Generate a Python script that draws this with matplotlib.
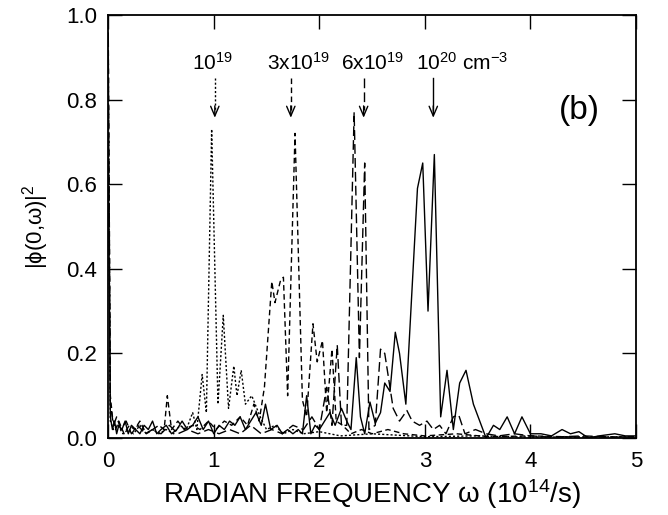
import numpy as np
import matplotlib
matplotlib.use("Agg")
import matplotlib.pyplot as plt

plt.rcParams['font.family'] = ['Liberation Sans', 'DejaVu Sans']
plt.rcParams['mathtext.default'] = 'regular'

# 10^20 cm^-3 (solid)
w_20 = [0.00, 0.02, 0.04, 0.06, 0.08, 0.10, 0.13, 0.16, 0.19, 0.22,
        0.26, 0.30, 0.34, 0.38, 0.42, 0.46, 0.50, 0.55, 0.60, 0.65,
        0.70, 0.75, 0.80, 0.85, 0.90, 0.95, 1.00, 1.05, 1.10, 1.15,
        1.20, 1.25, 1.30, 1.35, 1.40, 1.45, 1.49, 1.54, 1.60, 1.65,
        1.70, 1.75, 1.80, 1.84, 1.88, 1.92, 1.96, 2.00, 2.05, 2.10,
        2.15, 2.21, 2.26, 2.30, 2.35, 2.39, 2.43, 2.48, 2.53, 2.58,
        2.62, 2.67, 2.72, 2.76, 2.82, 2.93, 2.98, 3.03, 3.09, 3.15,
        3.21, 3.27, 3.33, 3.39, 3.46, 3.52, 3.58, 3.65, 3.71, 3.78,
        3.85, 3.92, 4.00, 4.10, 4.20, 4.30, 4.38, 4.46, 4.55, 4.65,
        4.80, 4.90, 5.00]
p_20 = [0.70, 0.05, 0.02, 0.04, 0.01, 0.03, 0.02, 0.04, 0.01, 0.03,
        0.02, 0.01, 0.03, 0.02, 0.04, 0.01, 0.02, 0.03, 0.01, 0.02,
        0.04, 0.02, 0.03, 0.05, 0.02, 0.04, 0.01, 0.03, 0.02, 0.04,
        0.03, 0.05, 0.02, 0.04, 0.06, 0.03, 0.08, 0.02, 0.03, 0.01,
        0.02, 0.01, 0.02, 0.01, 0.10, 0.01, 0.03, 0.02, 0.04, 0.06,
        0.03, 0.07, 0.04, 0.02, 0.19, 0.05, 0.01, 0.085, 0.035, 0.06,
        0.13, 0.11, 0.25, 0.20, 0.08, 0.59, 0.65, 0.30, 0.67, 0.05,
        0.16, 0.02, 0.13, 0.16, 0.08, 0.04, 0.00, 0.03, 0.02, 0.05,
        0.01, 0.05, 0.01, 0.01, 0.005, 0.02, 0.01, 0.015, 0.00, 0.005,
        0.01, 0.005, 0.005]

# 6x10^19 (long dash)
w_6e19 = [0.00, 0.02, 0.05, 0.08, 0.12, 0.17, 0.22, 0.28, 0.35, 0.42,
          0.50, 0.58, 0.66, 0.75, 0.85, 0.95, 1.05, 1.15, 1.25, 1.35,
          1.45, 1.55, 1.65, 1.75, 1.85, 1.93, 2.00, 2.07, 2.12, 2.17,
          2.21, 2.26, 2.33, 2.38, 2.43, 2.47, 2.53, 2.58, 2.62, 2.70,
          2.76, 2.83, 2.88, 2.95, 3.02, 3.08, 3.14, 3.20, 3.27, 3.32,
          3.38, 3.48, 3.58, 3.70, 3.85, 4.00, 4.20, 4.50, 4.80, 5.00]
p_6e19 = [0.95, 0.08, 0.03, 0.05, 0.02, 0.04, 0.01, 0.03, 0.01, 0.02,
          0.01, 0.03, 0.01, 0.02, 0.01, 0.02, 0.01, 0.02, 0.01, 0.03,
          0.01, 0.02, 0.01, 0.03, 0.02, 0.05, 0.02, 0.12, 0.03, 0.22,
          0.03, 0.03, 0.77, 0.19, 0.65, 0.02, 0.03, 0.21, 0.20, 0.07,
          0.04, 0.065, 0.04, 0.03, 0.04, 0.02, 0.03, 0.01, 0.05, 0.055,
          0.01, 0.02, 0.01, 0.005, 0.01, 0.005, 0.002, 0.005, 0.002, 0.003]

# 3x10^19 (medium dash)
w_3e19 = [0.00, 0.02, 0.04, 0.07, 0.10, 0.15, 0.20, 0.25, 0.30, 0.36,
          0.42, 0.48, 0.53, 0.56, 0.60, 0.66, 0.72, 0.80, 0.87, 0.95,
          1.02, 1.10, 1.17, 1.25, 1.32, 1.38, 1.43, 1.48, 1.55, 1.58,
          1.63, 1.66, 1.70, 1.77, 1.84, 1.88, 1.94, 1.98, 2.03, 2.07,
          2.12, 2.16, 2.22, 2.30, 2.40, 2.50, 2.65, 2.80, 3.00, 3.30,
          3.60, 4.00, 4.50, 5.00]
p_3e19 = [0.98, 0.10, 0.05, 0.02, 0.04, 0.01, 0.03, 0.02, 0.04, 0.01,
          0.02, 0.03, 0.02, 0.10, 0.02, 0.04, 0.02, 0.03, 0.02, 0.04,
          0.02, 0.04, 0.03, 0.05, 0.03, 0.08, 0.04, 0.12, 0.37, 0.32,
          0.37, 0.38, 0.10, 0.72, 0.09, 0.05, 0.27, 0.18, 0.23, 0.06,
          0.21, 0.04, 0.03, 0.01, 0.02, 0.01, 0.02, 0.01, 0.005, 0.01,
          0.003, 0.005, 0.002, 0.003]

# 10^19 (dotted)
w_1e19 = [0.00, 0.02, 0.05, 0.09, 0.14, 0.19, 0.24, 0.30, 0.36, 0.42,
          0.48, 0.55, 0.62, 0.68, 0.74, 0.80, 0.84, 0.89, 0.93, 0.98,
          1.04, 1.09, 1.14, 1.19, 1.22, 1.26, 1.30, 1.36, 1.44, 1.50,
          1.58, 1.66, 1.75, 1.85, 2.00, 2.20, 2.50, 3.00, 3.50, 4.00,
          5.00]
p_1e19 = [0.85, 0.04, 0.02, 0.03, 0.01, 0.02, 0.01, 0.03, 0.01, 0.02,
          0.01, 0.02, 0.01, 0.03, 0.02, 0.06, 0.02, 0.15, 0.06, 0.73,
          0.08, 0.29, 0.07, 0.17, 0.10, 0.16, 0.08, 0.10, 0.05, 0.02,
          0.03, 0.01, 0.02, 0.01, 0.015, 0.005, 0.01, 0.003, 0.005, 0.002,
          0.003]

labels = ['10$^{19}$', '3x10$^{19}$', '6x10$^{19}$', '10$^{20}$ cm$^{-3}$']
label_x = [0.99, 1.80, 2.505, 2.92]
label_ha = ['center', 'center', 'center', 'left']
arrow_x = [1.01, 1.73, 2.42, 3.08]

dot = (0, (1.5, 1.5))
mid = (0, (4, 2.5))
lng = (0, (7, 3))
styles = [dot, mid, lng, '-']

fig = plt.figure(figsize=(6.68, 5.15), dpi=100)
ax = fig.add_axes([0.162, 0.1495, 0.790, 0.8215])

series = [(w_1e19, p_1e19), (w_3e19, p_3e19), (w_6e19, p_6e19), (w_20, p_20)]
for (w, p), ls in zip(series, styles):
    ax.plot(w, p, color='black', lw=1.0, ls=ls)

# density labels with arrows
for i in range(4):
    ax.text(label_x[i], 0.87, labels[i], ha=label_ha[i], va='baseline', fontsize=15)
    ax.plot([arrow_x[i], arrow_x[i]], [0.85, 0.775], color='black', lw=1.0, ls=styles[i])
    ax.annotate('', xy=(arrow_x[i], 0.757), xytext=(arrow_x[i], 0.785),
                arrowprops=dict(arrowstyle='->, head_length=0.7, head_width=0.3',
                                color='black', lw=1.0, shrinkA=0, shrinkB=0))

ax.text(4.46, 0.775, '(b)', ha='center', va='center', fontsize=24)

ax.set_xlim(0, 5)
ax.set_ylim(0, 1.0)
ax.set_xticks([0, 1, 2, 3, 4, 5])
ax.set_yticks([0.0, 0.2, 0.4, 0.6, 0.8, 1.0])
ax.set_yticklabels(['0.0', '0.2', '0.4', '0.6', '0.8', '1.0'])
ax.tick_params(direction='in', length=10, width=1, top=True, right=True,
               labelsize=16)
ax.tick_params(axis='x', pad=9)
ax.tick_params(axis='y', pad=8)
for s in ax.spines.values():
    s.set_linewidth(1.3)

ax.set_xlabel('RADIAN FREQUENCY ω (10$^{14}$/s)', fontsize=20, labelpad=4)
ax.set_ylabel('|ϕ(0,ω)|$^2$', fontsize=16, labelpad=11)

fig.savefig('out.png', dpi=100)
